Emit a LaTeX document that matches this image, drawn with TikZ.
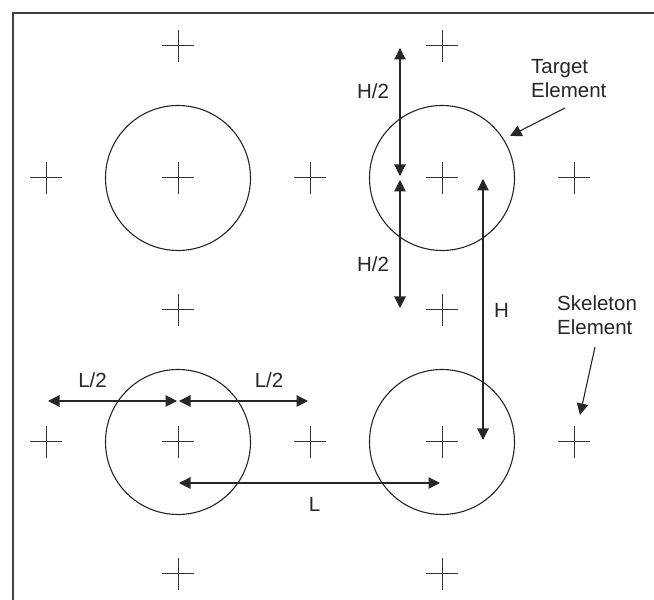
\documentclass[tikz,border=0pt]{standalone}
\usepackage{fontspec}
\setmainfont{Liberation Sans}
\usetikzlibrary{arrows.meta, positioning}

\tikzset{
  skel/.style={minimum size=32pt, inner sep=0pt,
    path picture={\draw[line width=1pt, black!80]
      (path picture bounding box.north) -- (path picture bounding box.south)
      (path picture bounding box.west) -- (path picture bounding box.east);}},
  target/.style={circle, draw=black!85, line width=1.1pt, minimum size=145pt, inner sep=0pt},
  frame/.style={line width=1.4pt, black!75},
  dimline/.style={line width=1.1pt, black!85},
  lbl/.style={font=\fontsize{20.5}{24.5}\selectfont, inner sep=0pt, text=black!85}
}

\begin{document}
\begin{tikzpicture}[x=1pt, y=1pt, on grid, node distance=132pt,
    >={Triangle[length=11.5pt,width=11.5pt]}]
      \useasboundingbox (0,0) rectangle (654,600);
      \draw[frame] (13,0) -- (13,587) -- (654,587);

      % skeleton elements
      \node[skel]  (s10) at (46,422)     {};
      \node[skel]  (s11) [right of=s10]  {};
      \node[skel]  (s12) [right of=s11]  {};
      \node[skel]  (s13) [right of=s12]  {};
      \node[skel]  (s14) [right of=s13]  {};
      \node[skel]  (s01) [above of=s11]  {};
      \node[skel]  (s03) [above of=s13]  {};
      \node[skel]  (s21) [below of=s11]  {};
      \node[skel]  (s23) [below of=s13]  {};
      \node[skel]  (s31) [below of=s21]  {};
      \node[skel]  (s30) [left of=s31]   {};
      \node[skel]  (s32) [right of=s31]  {};
      \node[skel]  (s33) [right of=s32]  {};
      \node[skel]  (s34) [right of=s33]  {};
      \node[skel]  (s41) [below of=s31]  {};
      \node[skel]  (s43) [below of=s33]  {};

      % target elements
      \node[target] (t11) at (s11) {};
      \node[target] (t13) at (s13) {};
      \node[target] (t31) at (s31) {};
      \node[target] (t33) at (s33) {};

      % arrow ends
      \coordinate (hA) at ([shift={(-42,130)}]s13);
      \coordinate (hB) at ([shift={(-42,2)}]s13);
      \coordinate (hC) at ([shift={(-42,-2)}]s13);
      \coordinate (hD) at ([shift={(-42,2)}]s23);
      \coordinate (hE) at ([shift={(41,-1)}]s13);
      \coordinate (hF) at ([shift={(41,2)}]s33);
      \coordinate (lA) at ([shift={(2,41)}]s30);
      \coordinate (lB) at ([shift={(-1,41)}]s31);
      \coordinate (lC) at ([shift={(1,41)}]s31);
      \coordinate (lD) at ([shift={(-2,41)}]s32);
      \coordinate (lE) at ([shift={(1,-41)}]s31);
      \coordinate (lF) at ([shift={(-2,-41)}]s33);
      \coordinate (tgA) at ([shift={(123,70)}]s13);
      \coordinate (tgB) at ([shift={(68,42)}]s13);
      \coordinate (skA) at ([shift={(21,95)}]s34);
      \coordinate (skB) at ([shift={(6,27)}]s34);

      \path[dimline]
        (hA) edge [<->] (hB)
        (hC) edge [<->] (hD)
        (hE) edge [<->] (hF)
        (lA) edge [<->] (lB)
        (lC) edge [<->] (lD)
        (lE) edge [<->] (lF)
        (tgA) edge [->] (tgB)
        (skA) edge [->] (skB);

      % labels
      \node[lbl, anchor=base] (lhup)  at (373,501)   {H/2};
      \node[lbl, anchor=base] (lhlow) at (373,328)   {H/2};
      \node[lbl, anchor=base] (lh)    at (501.5,282) {H};
      \node[lbl, anchor=base] (lleft) at (92.5,212)  {L/2};
      \node[lbl, anchor=base] (lright) at (269,212)  {L/2};
      \node[lbl, anchor=base] (ll)    at (314.5,88)  {L};
      \node[lbl, anchor=base west, align=left] (ltg) at (531,502) {Target\\Element};
      \node[lbl, anchor=base west, align=left] (lsk) at (557,265) {Skeleton\\Element};
\end{tikzpicture}
\end{document}
